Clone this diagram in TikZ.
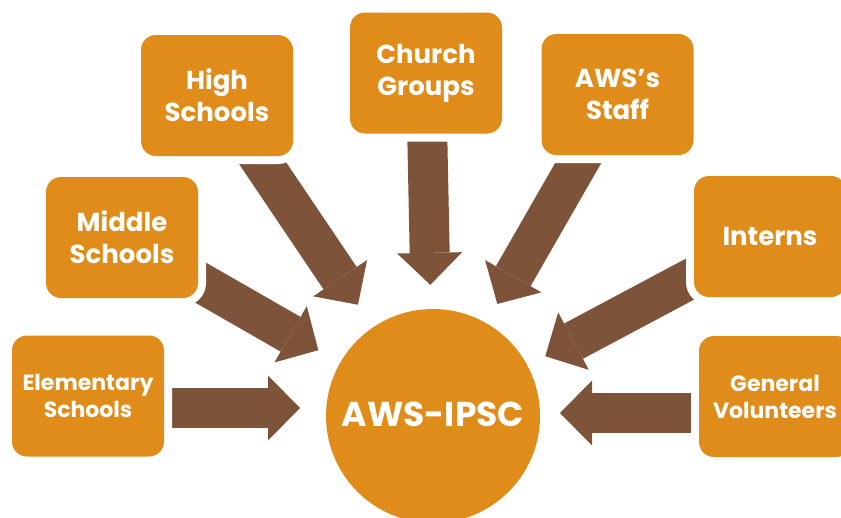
\documentclass[tikz,border=0pt]{standalone}
\usepackage{fontspec}
\setmainfont{Poppins}
\usetikzlibrary{arrows.meta,backgrounds}
\definecolor{boxorange}{HTML}{DF8C1A}
\definecolor{arrowbrown}{HTML}{7D5339}
\tikzset{
  box/.style={fill=boxorange, rounded corners=15pt, minimum width=152pt, minimum height=121pt,
    inner sep=0pt, align=center, text=white, font=\bfseries\fontsize{26}{32}\selectfont,
    preaction={draw=white, line width=16pt}},
  smallbox/.style={box, font=\bfseries\fontsize{22}{27}\selectfont},
  hubstyle/.style={circle, fill=boxorange, minimum size=214pt, inner sep=0pt, text=white,
    font=\bfseries\fontsize{34.5}{40}\selectfont},
  blockarrow/.style={draw=arrowbrown, line width=40pt,
    -{Triangle[length=32pt,width=65pt,line width=0pt 0]}}
}
\begin{document}
\begin{tikzpicture}[x=1pt,y=-1pt]
\useasboundingbox (0,0) rectangle (841,517);
\node[hubstyle] (hub) at (433,416) {\raisebox{3pt}{AWS-IPSC}};
\node[smallbox] (elem) at (88,396) {Elementary\\Schools};
\node[box] (mid) at (122,237.5) {Middle\\Schools};
\node[box] (high) at (217,95.5) {High\\Schools};
\node[box] (church) at (426,73) {Church\\Groups};
\node[box] (staff) at (617.5,94.5) {AWS’s\\Staff};
\node[box] (interns) at (770,236.5) {Interns};
\node[smallbox] (gv) at (775,396.5) {General\\Volunteers};
\coordinate (et) at (300,408);
\coordinate (gt) at (560,413);
\begin{pgfonlayer}{background}
\draw[blockarrow] (elem.center |- et) -- (et);
\draw[blockarrow, shorten >=25pt] (mid.center) -- (hub);
\draw[blockarrow, shorten >=27pt] (high.center) -- (hub);
\draw[blockarrow, shorten >=24pt] (church.center) -- (hub);
\draw[blockarrow, shorten >=22pt] (staff.center) -- (hub);
\draw[blockarrow, shorten >=20pt] (interns.center) -- (hub);
\draw[blockarrow] (gv.center |- gt) -- (gt);
\end{pgfonlayer}
\end{tikzpicture}
\end{document}
